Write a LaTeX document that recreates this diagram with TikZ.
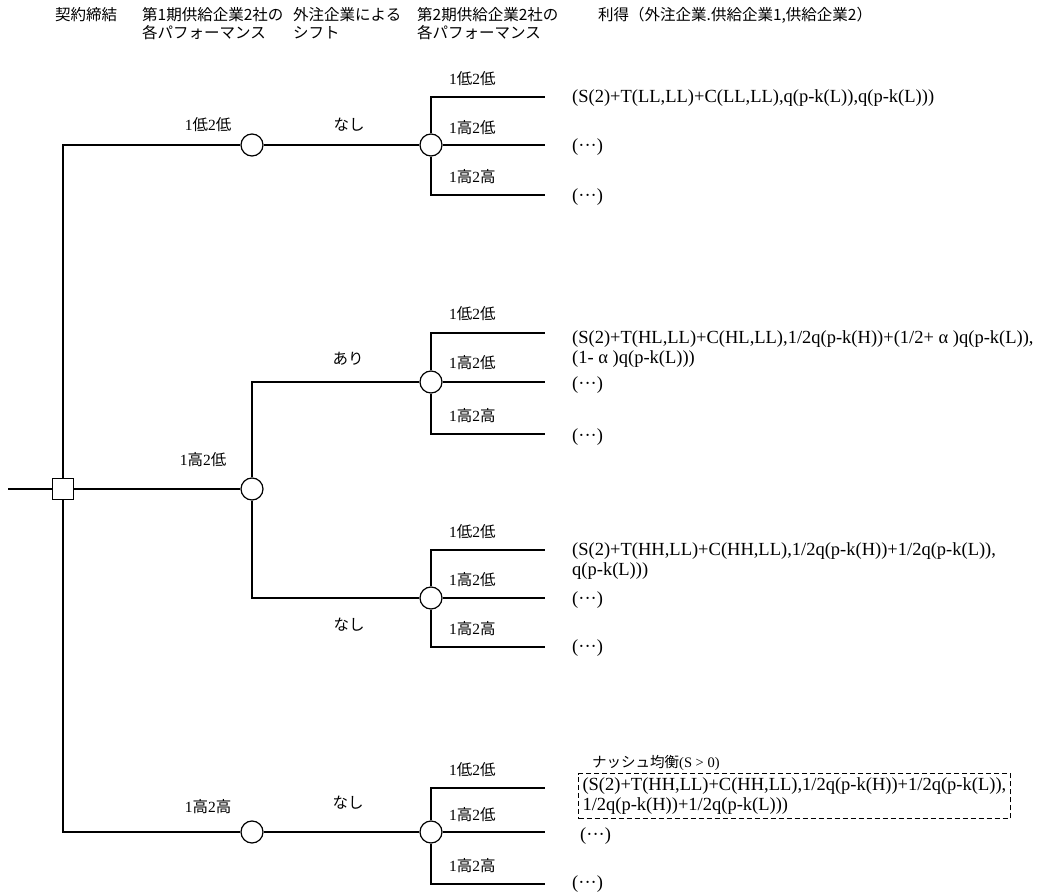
\documentclass[tikz,border=0pt]{standalone}
\usepackage{fontspec}
\setmainfont{Liberation Serif}
\newfontfamily\jp{Noto Sans CJK JP}
\newcommand\jtx[1]{{\jp #1}}
\begin{document}
\begin{tikzpicture}[x=1pt,y=-1pt,
  ln/.style={line width=1.8pt},
  chance/.style={circle,draw,line width=1.2pt,fill=white,minimum size=22pt,inner sep=0pt},
  dec/.style={rectangle,draw,line width=1.2pt,fill=white,minimum size=21pt,inner sep=0pt},
  lab/.style={font=\fontsize{15.5}{18}\selectfont,inner sep=0pt},
  jlab/.style={font=\fontsize{15.5}{18}\selectfont\jp,inner sep=0pt},
  blab/.style={lab,anchor=west},
  pay/.style={font=\fontsize{18.5}{20}\selectfont,inner sep=0pt,anchor=west,align=left},
  hd/.style={font=\fontsize{15.5}{18.5}\selectfont\jp,inner sep=0pt,anchor=north west,align=left}]
\useasboundingbox (0,0) rectangle (1045,893);

% header
\node[hd] (h1) at (55,7) {契約締結};
\node[hd] (h2) at (142,7) {第1期供給企業2社の\\各パフォーマンス};
\node[hd] (h3) at (293,7) {外注企業による\\シフト};
\node[hd] (h4) at (417,7) {第2期供給企業2社の\\各パフォーマンス};
\node[hd] (h5) at (598,7) {利得（外注企業.供給企業1,供給企業2）};

% decision and chance nodes
\coordinate (start) at (8,489);
\node[dec] (root) at (63,489) {};
\node[chance] (c1) at (252,145) {};
\node[chance] (c2) at (252,489) {};
\node[chance] (c3) at (252,832) {};
\node[chance] (d1) at (431,145) {};
\node[chance] (d2) at (431,382) {};
\node[chance] (d3) at (431,598) {};
\node[chance] (d4) at (431,832) {};

% branch end points
\coordinate (e11) at (545,97);  \coordinate (e12) at (545,145); \coordinate (e13) at (545,195);
\coordinate (e21) at (545,333); \coordinate (e22) at (545,382); \coordinate (e23) at (545,434);
\coordinate (e31) at (545,550); \coordinate (e32) at (545,598); \coordinate (e33) at (545,647);
\coordinate (e41) at (545,788); \coordinate (e42) at (545,832); \coordinate (e43) at (545,884);

% connectors
\draw[ln] (start) -- (root);
\draw[ln] (root) -- (c2);
\draw[ln] (root.north) |- (c1);
\draw[ln] (root.south) |- (c3);
\draw[ln] (c1) -- (d1);
\draw[ln] (c3) -- (d4);
\draw[ln] (c2.north) |- (d2);
\draw[ln] (c2.south) |- (d3);
\draw[ln] (d1.north) |- (e11); \draw[ln] (d1) -- (e12); \draw[ln] (d1.south) |- (e13);
\draw[ln] (d2.north) |- (e21); \draw[ln] (d2) -- (e22); \draw[ln] (d2.south) |- (e23);
\draw[ln] (d3.north) |- (e31); \draw[ln] (d3) -- (e32); \draw[ln] (d3.south) |- (e33);
\draw[ln] (d4.north) |- (e41); \draw[ln] (d4) -- (e42); \draw[ln] (d4.south) |- (e43);

% stage labels
\node[lab] (l1) at (208,125) {1\jtx{低}2\jtx{低}};
\node[lab] (l2) at (203,460) {1\jtx{高}2\jtx{低}};
\node[lab] (l3) at (208,807) {1\jtx{高}2\jtx{高}};
\node[jlab] (s1) at (349,125) {なし};
\node[jlab] (s2) at (348,359) {あり};
\node[jlab] (s3) at (349,625) {なし};
\node[jlab] (s4) at (348,803) {なし};

% second stage labels
\node[blab] (b11) at (449,79)  {1\jtx{低}2\jtx{低}};
\node[blab] (b12) at (449,128) {1\jtx{高}2\jtx{低}};
\node[blab] (b13) at (449,177) {1\jtx{高}2\jtx{高}};
\node[blab] (b21) at (449,314) {1\jtx{低}2\jtx{低}};
\node[blab] (b22) at (449,363) {1\jtx{高}2\jtx{低}};
\node[blab] (b23) at (449,416) {1\jtx{高}2\jtx{高}};
\node[blab] (b31) at (449,532) {1\jtx{低}2\jtx{低}};
\node[blab] (b32) at (449,580) {1\jtx{高}2\jtx{低}};
\node[blab] (b33) at (449,629) {1\jtx{高}2\jtx{高}};
\node[blab] (b41) at (449,770) {1\jtx{低}2\jtx{低}};
\node[blab] (b42) at (449,815) {1\jtx{高}2\jtx{低}};
\node[blab] (b43) at (449,866) {1\jtx{高}2\jtx{高}};

% payoffs
\node[pay] (p11) at (572,98) {(S(2)+T(LL,LL)+C(LL,LL),q(p-k(L)),q(p-k(L)))};
\node[pay] (p12) at (572,147) {(···)};
\node[pay] (p13) at (572,197) {(···)};
\node[pay] (p21) at (572,349) {(S(2)+T(HL,LL)+C(HL,LL),1/2q(p-k(H))+(1/2+ α )q(p-k(L)),\\(1- α )q(p-k(L)))};
\node[pay] (p22) at (572,385) {(···)};
\node[pay] (p23) at (572,437) {(···)};
\node[pay] (p31) at (572,561) {(S(2)+T(HH,LL)+C(HH,LL),1/2q(p-k(H))+1/2q(p-k(L)),\\q(p-k(L)))};
\node[pay] (p32) at (572,600) {(···)};
\node[pay] (p33) at (572,648) {(···)};
\node[pay,font=\fontsize{14.5}{17}\selectfont] (ne) at (592,763) {\jtx{ナッシュ均衡}(S > 0)};
\node[pay,draw,dashed,dash pattern=on 5pt off 3pt,line width=1pt,anchor=north west,inner xsep=4pt,inner ysep=3pt,minimum height=45pt] (p41) at (578,773) {(S(2)+T(HH,LL)+C(HH,LL),1/2q(p-k(H))+1/2q(p-k(L)),\\1/2q(p-k(H))+1/2q(p-k(L)))};
\node[pay] (p42) at (580,836) {(···)};
\node[pay] (p43) at (572,884) {(···)};
\end{tikzpicture}
\end{document}
